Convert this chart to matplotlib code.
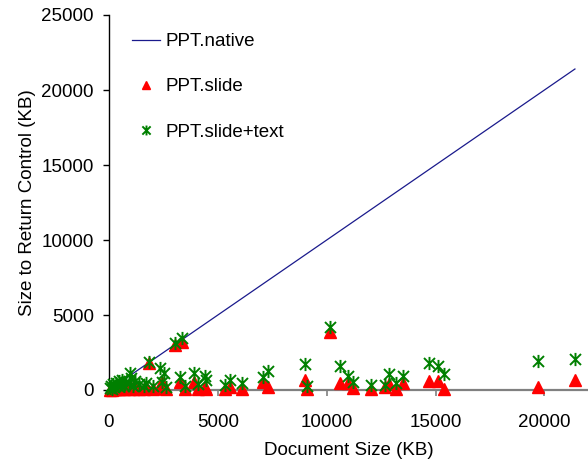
import numpy as np
import matplotlib
matplotlib.use('Agg')
import matplotlib.pyplot as plt
from matplotlib.path import Path

plt.rcParams['font.family'] = ['Liberation Sans', 'DejaVu Sans']

# document size (KB) and the size needed to return control (KB)
doc_kb = [50, 100, 150, 200, 250, 300, 400, 450, 500, 600, 700, 800, 900, 960,
          1000, 1100, 1200, 1400, 1600, 1700, 1850, 2000, 2340, 2420, 2530, 2600,
          3030, 3260, 3330, 3500, 3910, 4100, 4400, 4450, 5320, 5550, 6130, 7080,
          7310, 8990, 9100, 10140, 10630, 10980, 11210, 12050, 12660, 12860, 13170,
          13500, 14690, 15110, 15370, 19720, 21400]
slide_kb = [20, 40, 30, 60, 80, 50, 100, 120, 60, 150, 90, 200, 100, 250,
            150, 60, 180, 100, 50, 200, 1800, 80, 300, 550, 150, 50,
            3000, 550, 3220, 50, 550, 100, 200, 50, 50, 200, 100, 550,
            170, 670, 100, 3890, 490, 490, 110, 50, 200, 380, 50,
            450, 620, 620, 100, 220, 670]
slide_text_kb = [150, 300, 100, 400, 200, 500, 250, 600, 350, 700, 300, 550, 450, 1130,
                 800, 300, 600, 400, 250, 500, 1890, 300, 1450, 550, 1130, 200,
                 3150, 890, 3440, 250, 1110, 400, 930, 700, 330, 670, 490, 890,
                 1270, 1730, 250, 4220, 1600, 930, 560, 330, 330, 1040, 490,
                 930, 1780, 1600, 1070, 1930, 2040]

native_x = sorted(doc_kb)
native_y = native_x  # native copy returns the whole document

# Excel style star marker: an X with a vertical bar
star = Path([(-1, -1), (1, 1), (-1, 1), (1, -1), (0, -1.2), (0, 1.2)],
            [Path.MOVETO, Path.LINETO, Path.MOVETO, Path.LINETO, Path.MOVETO, Path.LINETO])

fig = plt.figure(figsize=(5.88, 4.61), dpi=100)
ax = fig.add_axes([109 / 588, 1 - 390 / 461, 1 - 109 / 588, 375 / 461])

ax.plot(native_x, native_y, color='#1a1a8c', linewidth=0.9, label='PPT.native', zorder=2)
ax.plot(doc_kb, slide_kb, linestyle='none', marker='^', markersize=8.5, color='#ff0000',
        markeredgecolor='#ff0000', label='PPT.slide', clip_on=False, zorder=3)
ax.plot(doc_kb, slide_text_kb, linestyle='none', marker=star, markersize=9.5,
        markerfacecolor='none', markeredgecolor='#008000', markeredgewidth=1.4,
        label='PPT.slide+text', clip_on=False, zorder=4)

ax.set_xlim(0, 22000)
ax.set_ylim(0, 25000)
ax.set_xticks([0, 5000, 10000, 15000, 20000])
ax.set_yticks([0, 5000, 10000, 15000, 20000, 25000])

ax.spines['top'].set_visible(False)
ax.spines['right'].set_visible(False)
ax.spines['left'].set_color('black')
ax.spines['left'].set_linewidth(1.0)
ax.spines['bottom'].set_color('#808080')
ax.spines['bottom'].set_linewidth(1.6)
ax.spines['bottom'].set_zorder(1)

ax.tick_params(axis='y', direction='out', length=4, width=1, colors='black',
               labelsize=13.5, pad=7)
ax.tick_params(axis='x', direction='out', length=4, width=1.2, color='#808080',
               labelcolor='black', labelsize=13.5, pad=13)

ax.set_xlabel('Document Size (KB)', fontsize=13.5, labelpad=8)
ax.set_ylabel('Size to Return Control (KB)', fontsize=13.5, labelpad=4)

leg = ax.legend(loc='upper left', frameon=False, fontsize=13.5, labelspacing=1.5,
                handlelength=1.5, handletextpad=0.3, borderaxespad=0.2,
                markerscale=0.75, bbox_to_anchor=(0.025, 0.982))

fig.savefig('out.png', dpi=100)
